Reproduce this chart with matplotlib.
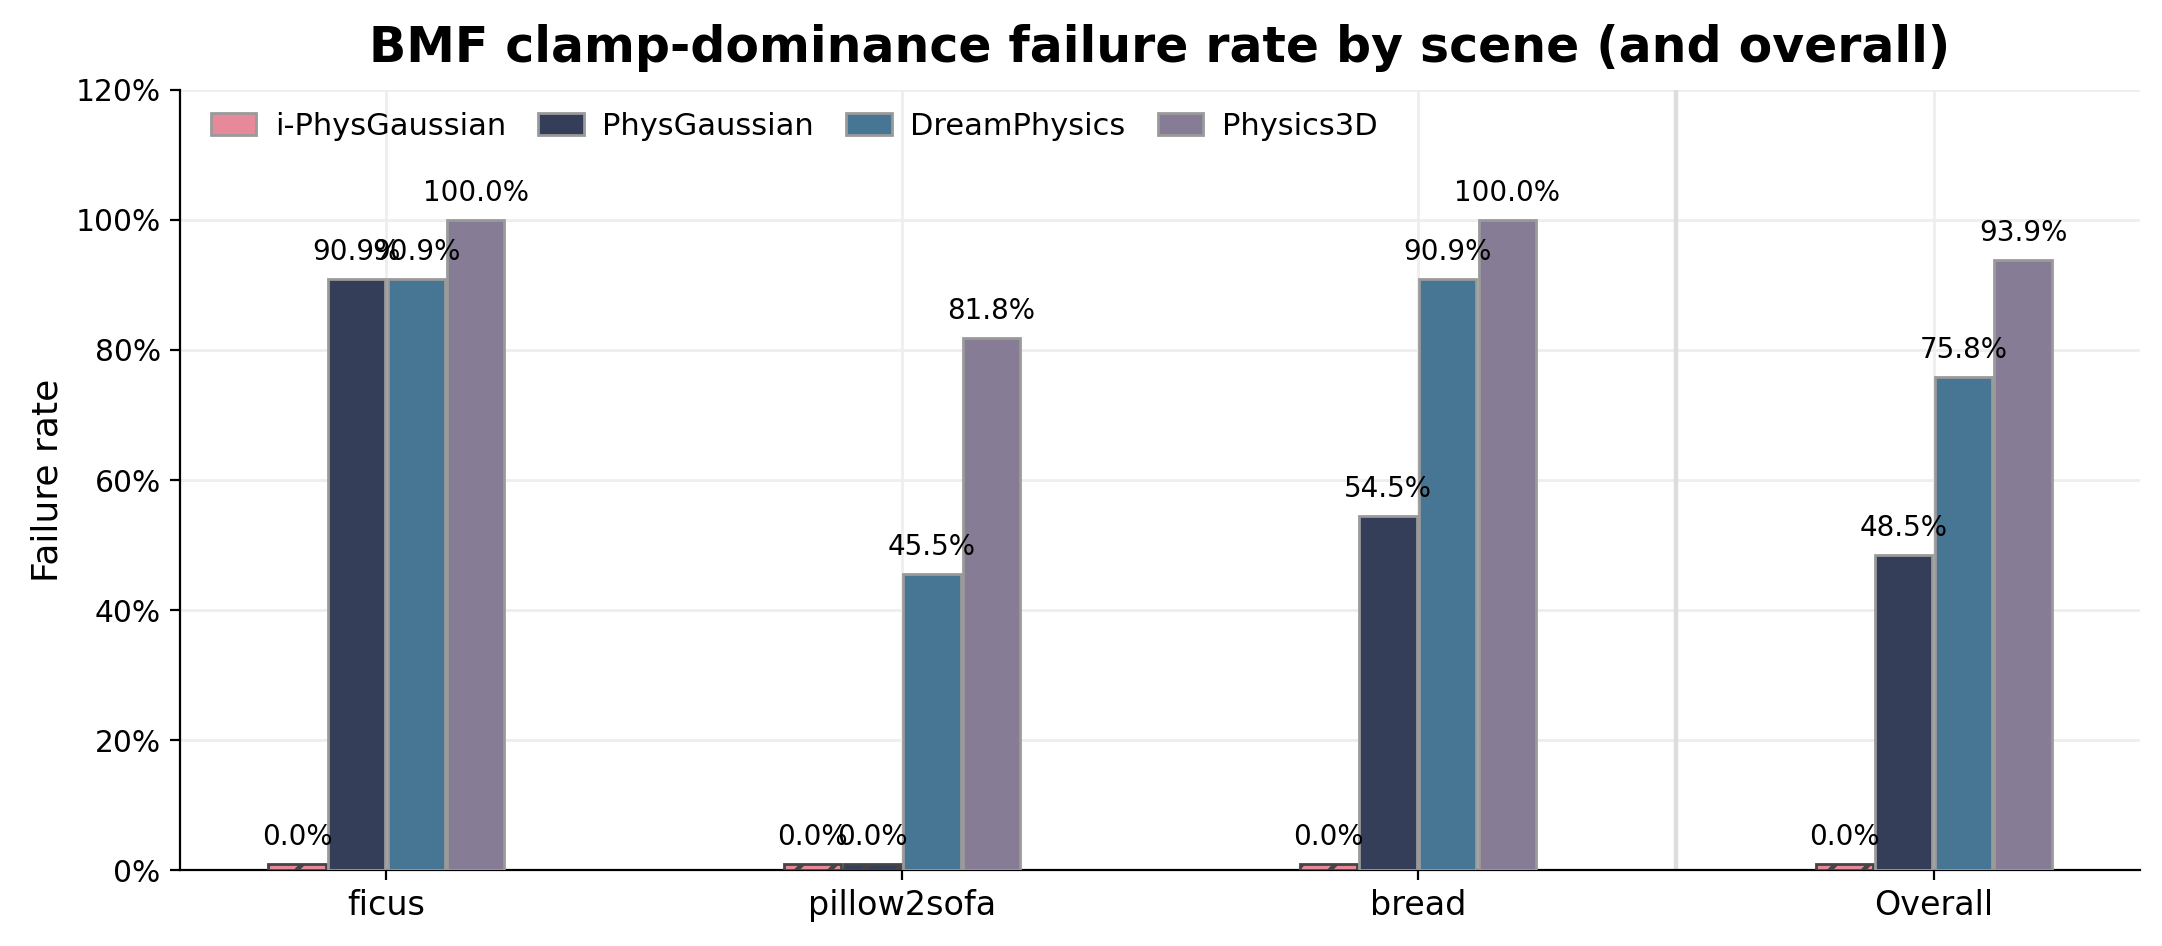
import numpy as np
import matplotlib
matplotlib.use("Agg")
import matplotlib.pyplot as plt
from matplotlib.ticker import FuncFormatter

plt.rcParams['hatch.linewidth'] = 1.6

scenes = ["ficus", "pillow2sofa", "bread", "Overall"]
methods = ["i-PhysGaussian", "PhysGaussian", "DreamPhysics", "Physics3D"]
colors = ["#E8899A", "#343E58", "#477594", "#877C95"]

# failure rate (%) per method, one value per scene
i_physgaussian = [0.0, 0.0, 0.0, 0.0]
physgaussian = [90.9, 0.0, 54.5, 48.5]
dreamphysics = [90.9, 45.5, 90.9, 75.8]
physics3d = [100.0, 81.8, 100.0, 93.9]
series = [i_physgaussian, physgaussian, dreamphysics, physics3d]

fig = plt.figure(figsize=(10.81, 4.73), dpi=200)
ax = fig.add_axes([0.0833, 0.0803, 0.9065, 0.8246])

x = np.arange(len(scenes))
w = 0.111
pitch = 0.1155
zero_h = 1.0  # zero bars drawn as a thin hatched sliver

for i, (name, vals, c) in enumerate(zip(methods, series, colors)):
    xs = x + (i - 1.5) * pitch
    for xi, v in zip(xs, vals):
        if v == 0:
            ax.bar(xi, zero_h, width=w, color=c, edgecolor="#444444",
                   linewidth=1.0, hatch="//", zorder=3)
            top = zero_h
        else:
            ax.bar(xi, v, width=w, color=c, edgecolor="#9a9a9a",
                   linewidth=1.0, zorder=3)
            top = v
        ax.text(xi, top + 2.0, f"{v:.1f}%", ha="center", va="bottom",
                fontsize=10, zorder=4)
    # legend proxy
    ax.bar([np.nan], [np.nan], width=w, color=c, edgecolor="#9a9a9a",
           linewidth=1.0, label=name)

ax.axvline(2.5, color="#dddddd", linewidth=1.6, zorder=1)

ax.set_xlim(-0.4, 3.4)
ax.set_ylim(0, 120)
ax.set_yticks(np.arange(0, 121, 20))
ax.yaxis.set_major_formatter(FuncFormatter(lambda v, p: f"{v:.0f}%"))
ax.set_xticks(x)
ax.set_xticklabels(scenes, fontsize=12)
ax.tick_params(axis="y", labelsize=10.7)
ax.grid(True, color="#eeeeee", linewidth=1.0, zorder=0)
ax.set_axisbelow(True)

for s in ["top", "right"]:
    ax.spines[s].set_visible(False)

ax.set_ylabel("Failure rate", fontsize=13)
ax.set_title("BMF clamp-dominance failure rate by scene (and overall)",
             fontsize=17.6, fontweight="bold", pad=10)

ax.legend(loc="upper left", bbox_to_anchor=(0, 1.0115), ncol=4,
          frameon=False, fontsize=11, handlelength=1.5, handletextpad=0.6,
          columnspacing=1.05, borderaxespad=0.6)

fig.savefig("out.png", dpi=200)
